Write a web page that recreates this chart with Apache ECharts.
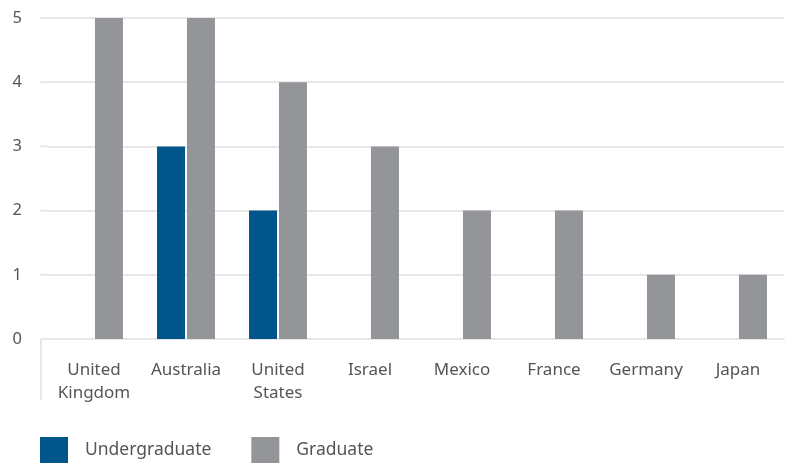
<!DOCTYPE html>
<html>
<head>
<meta charset="utf-8">
<script src="https://cdn.jsdelivr.net/npm/echarts@6/dist/echarts.min.js"></script>
<style>
  html, body { margin: 0; padding: 0; background: #fff; }
  #chart { width: 790px; height: 463px; }
</style>
</head>
<body>
<div id="chart"></div>
<script>
  const categories = ['United\nKingdom', 'Australia', 'United\nStates', 'Israel', 'Mexico', 'France', 'Germany', 'Japan'];
  const undergraduate = [0, 3, 2, 0, 0, 0, 0, 0];
  const graduate = [5, 5, 4, 3, 2, 2, 1, 1];
  const yTicks = [0, 1, 2, 3, 4, 5];

  const chart = echarts.init(document.getElementById('chart'));
  const font = 'Noto Sans';

  // short gridline stubs left of the grid, plus the frame line under the axis
  const stubs = yTicks.map(function (v, i) {
    const y = 339 - i * (321 / 5);
    return { type: 'line', shape: { x1: 40, y1: y, x2: 48, y2: y }, style: { stroke: '#e6e7e8', lineWidth: 2 } };
  });
  stubs.push({ type: 'line', shape: { x1: 41, y1: 339, x2: 41, y2: 400 }, style: { stroke: '#e6e7e8', lineWidth: 2 } });

  chart.setOption({
    animation: false,
    textStyle: { fontFamily: font },
    grid: { left: 48, right: 6, top: 18, bottom: 124 },
    legend: {
      left: 40,
      top: 437,
      padding: 0,
      itemWidth: 28,
      itemHeight: 26,
      itemGap: 40,
      icon: 'rect',
      textStyle: { fontFamily: font, fontSize: 17.5, color: '#555', padding: [3, 0, 0, 12] },
      data: ['Undergraduate', 'Graduate']
    },
    xAxis: {
      type: 'category',
      data: categories,
      axisLine: { lineStyle: { color: '#e6e7e8', width: 2 } },
      axisTick: { show: false },
      axisLabel: {
        interval: 0,
        hideOverlap: false,
        fontFamily: font,
        fontSize: 17,
        color: '#555',
        margin: 20,
        lineHeight: 23
      }
    },
    yAxis: {
      type: 'value',
      min: yTicks[0],
      max: yTicks[yTicks.length - 1],
      interval: 1,
      axisLine: { show: false },
      axisTick: { show: false },
      splitLine: { lineStyle: { color: '#e6e7e8', width: 2 } },
      axisLabel: { fontFamily: font, fontSize: 16.5, color: '#555', margin: 26 }
    },
    series: [
      {
        name: 'Undergraduate',
        type: 'bar',
        data: undergraduate,
        barWidth: 28,
        barGap: '7%',
        itemStyle: { color: '#00558a' }
      },
      {
        name: 'Graduate',
        type: 'bar',
        data: graduate,
        barWidth: 28,
        itemStyle: { color: '#939598' }
      }
    ],
    graphic: stubs
  });
</script>
</body>
</html>
